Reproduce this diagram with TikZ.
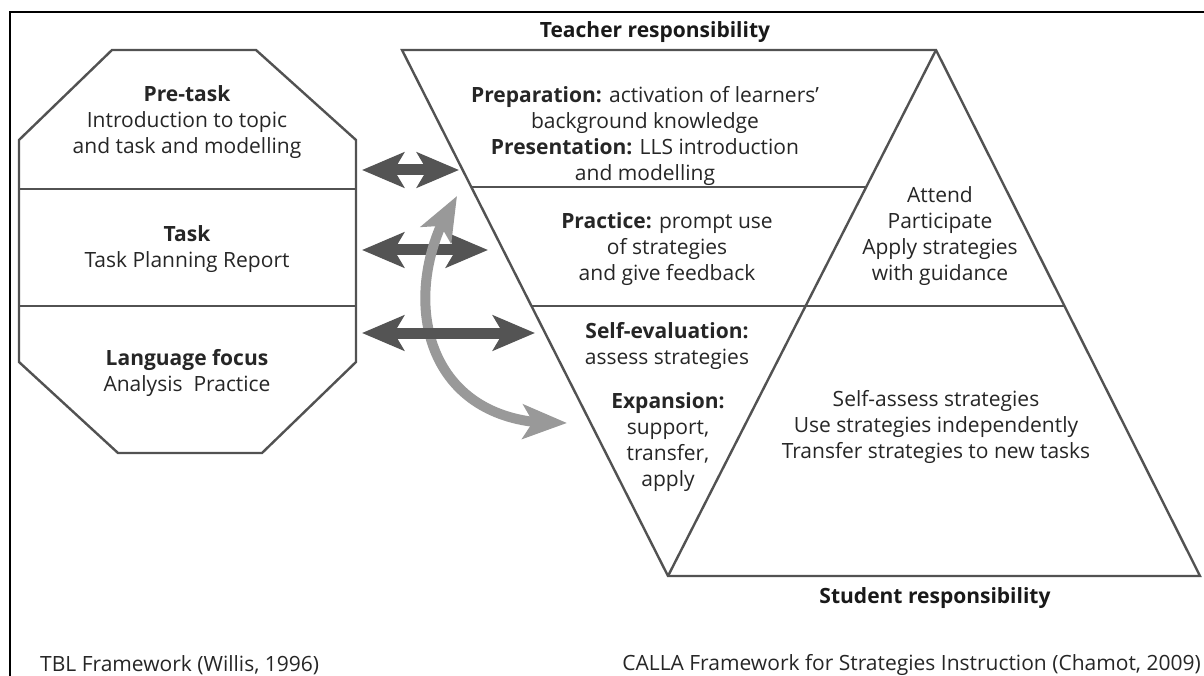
\documentclass[tikz,border=0pt]{standalone}
\usepackage{fontspec}
\setmainfont{Open Sans}
\usetikzlibrary{arrows.meta,bending}
\begin{document}
\begin{tikzpicture}[x=1pt,y=-1pt,
  outline/.style={draw=black!68, line width=2.4pt, line join=miter},
  frame/.style={draw=black, line width=2pt},
  body/.style={align=center, text=black!85, inner sep=0pt, font=\fontsize{21}{26}\selectfont},
  head/.style={body, font=\fontsize{21}{26}\selectfont\bfseries, text=black!90},
  dtip/.tip={Stealth[length=42pt,width=35pt,inset=10pt]},
  ltip/.tip={Stealth[length=44pt,width=34pt,inset=10pt]},
  darrow/.style={draw=black!67, line width=11pt, dtip-dtip},
  larrow/.style={draw=black!40, line width=10pt, ltip-ltip},
]
\useasboundingbox (0,0) rectangle (1204,676);
\fill[white] (0,0) rectangle (1204,676);

% outer frame
\draw[frame] (1210,12) -- (10,12) -- (10,680);

% TBL octagon with its three stages
\coordinate (o1) at (112,50);  \coordinate (o2) at (256,50);
\coordinate (o3) at (356,140); \coordinate (o4) at (356,362);
\coordinate (o5) at (262,453); \coordinate (o6) at (118,453);
\coordinate (o7) at (19,362);  \coordinate (o8) at (19,140);
\draw[outline] (o1) -- (o2) -- (o3) -- (o4) -- (o5) -- (o6) -- (o7) -- (o8) -- cycle;
\draw[outline] (19,189) -- (356,189);
\draw[outline] (19,306) -- (356,306);

\node[body] (pretask) at (187,122) {\textbf{Pre-task}\\Introduction to topic\\and task and modelling};
\node[body] (task) at (187,249) {\textbf{Task}\\Task Planning Report};
\node[body] (langfocus) at (187,373) {\textbf{Language focus}\\Analysis~~Practice};

% CALLA: teacher triangle (pointing down) and student triangle (pointing up)
\coordinate (tl) at (402,50);
\coordinate (tr) at (936,50);
\coordinate (tb) at (668,576);
\coordinate (sr) at (1200,576);
\draw[outline] (tl) -- (tr) -- (sr) -- (tb) -- cycle;
\draw[outline] (tr) -- (tb);
\draw[outline] (472,187) -- (866,187);
\draw[outline] (532,306) -- (1064,306);

\node[head] (teacher) at (655,32) {Teacher responsibility};
\node[head] (student) at (935,598) {Student responsibility};

\node[body] (prep) at (645,136) {\textbf{Preparation:} activation of learners’\\background knowledge\\\textbf{Presentation:} LLS introduction\\and modelling};
\node[body] (practice) at (667,249) {\textbf{Practice:} prompt use\\of strategies\\and give feedback};
\node[body] (selfeval) at (667,346) {\textbf{Self-evaluation:}\\assess strategies};
\node[body] (expansion) at (668,442) {\textbf{Expansion:}\\support,\\transfer,\\apply};

\node[body] (attend) at (940,236) {Attend\\Participate\\Apply strategies\\with guidance};
\node[body] (selfassess) at (936,427) {Self-assess strategies\\Use strategies independently\\Transfer strategies to new tasks};

% captions
\node[body, anchor=west] (tbl) at (40,665) {TBL Framework (Willis, 1996)};
\node[body, anchor=east] (calla) at (1201,665) {CALLA Framework for Strategies Instruction (Chamot, 2009)};

% links between the two frameworks
\coordinate (a1l) at (362,170); \coordinate (a1r) at (459,170);
\coordinate (a2l) at (362,250); \coordinate (a2r) at (488,250);
\coordinate (a3l) at (362,333); \coordinate (a3r) at (535,333);
\coordinate (cTop) at (457,196); \coordinate (cEnd) at (567,423);

\draw[darrow] (a1l) -- (a1r);
\draw[darrow] (a2l) -- (a2r);
\draw[larrow] (cTop) .. controls (395,290) and (420,430) .. (cEnd);
\draw[darrow] (a3l) -- (a3r);
\end{tikzpicture}
\end{document}
